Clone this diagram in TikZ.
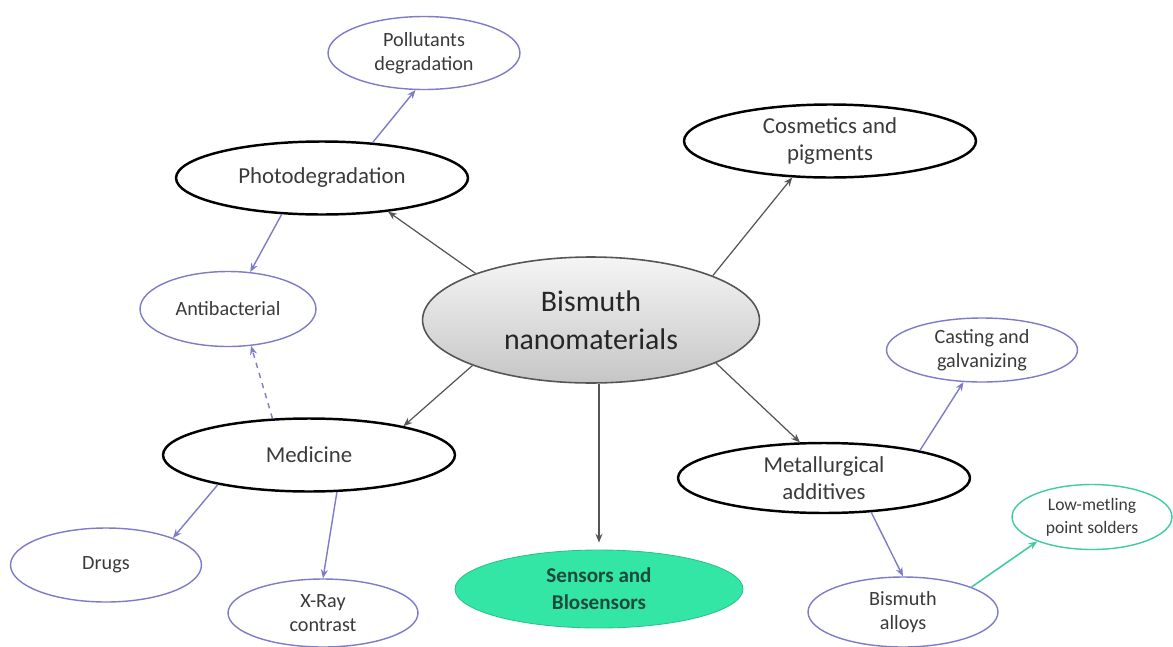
\documentclass[tikz,border=0pt]{standalone}
\usepackage{fontspec}
\setmainfont{Carlito}
\usetikzlibrary{shapes.geometric,arrows.meta}
\definecolor{ink}{HTML}{3A3A3A}
\definecolor{rim}{HTML}{555555}
\definecolor{subline}{HTML}{7E7BC8}
\definecolor{tealline}{HTML}{3FCBA3}
\definecolor{sensorfill}{HTML}{33E6A6}
\definecolor{sensorink}{HTML}{1E4A3C}

\begin{document}
\begin{tikzpicture}[x=0.02cm,y=-0.02cm,
  bub/.style={ellipse, align=center, inner sep=0pt, text=ink},
  topbub/.style={bub, draw=black, line width=1.4pt, minimum width=5.84cm, minimum height=1.46cm,
    font=\fontsize{13}{15.5}\selectfont},
  subbub/.style={bub, draw=subline, line width=0.8pt, minimum width=3.8cm, minimum height=1.44cm,
    font=\fontsize{11.5}{13.7}\selectfont},
  blk/.style={draw=rim, line width=0.7pt, -{Stealth[length=5pt,width=4pt]}},
  blu/.style={draw=subline, line width=0.8pt, -{Stealth[length=5pt,width=4pt]}}]
\useasboundingbox (0,0) rectangle (1173,646);

\node[bub, draw=rim, line width=0.9pt, top color=gray!8, bottom color=gray!45,
  minimum width=6.74cm, minimum height=2.52cm, text=black!85,
  font=\fontsize{17}{21.6}\selectfont] (bismuth) at (591,320) {Bismuth\\nanomaterials};

\node[topbub] (photo) at (322,178) {Photodegradation};
\node[topbub] (cosm) at (830,141) {Cosmetics and\\pigments};
\node[topbub] (medic) at (309,455) {Medicine};
\node[topbub, minimum height=1.4cm] (metal) at (824,478) {Metallurgical\\additives};

\node[subbub, minimum width=3.84cm, minimum height=1.46cm] (pollut) at (424,53) {Pollutants\\degradation};
\node[subbub, minimum width=3.52cm, minimum height=1.5cm] (antibac) at (228,309) {Antibacterial};
\node[subbub, minimum width=3.82cm, minimum height=1.48cm] (drugs) at (106,565) {Drugs};
\node[subbub, minimum height=1.36cm] (xray) at (323,613) {X-Ray\\contrast};
\node[subbub, minimum width=3.82cm, minimum height=1.28cm] (cast) at (982,350) {Casting and\\galvanizing};
\node[subbub, minimum height=1.4cm] (alloys) at (903,612) {Bismuth\\alloys};
\node[subbub, draw=tealline, minimum width=3.2cm, minimum height=1.3cm,
  font=\fontsize{10}{13}\selectfont] (lowmelt) at (1092,517) {Low-metling\\point solders};

\node[bub, draw=sensorfill!85!black, line width=0.5pt, fill=sensorfill, text=sensorink,
  minimum width=5.76cm, minimum height=1.56cm,
  font=\fontsize{12}{15.4}\selectfont\bfseries] (sens) at (599,589) {Sensors and\\Blosensors};

\draw[blk] (bismuth.158) -- (photo.-27);
\draw[blk] (bismuth.20) -- (cosm.224);
\draw[blk] (bismuth.201) -- (medic.17);
\draw[blk] (bismuth.south -| sens.north) -- ([yshift=4pt]sens.north);
\draw[blk] (bismuth.-19) -- (metal.124);

\draw[blu] (photo.35) -- (pollut.257);
\draw[blu] (photo.222) -- (antibac.59);
\draw[blu, dashed] (medic.135) -- (antibac.-58);
\draw[blu] (medic.198) -- (drugs.22);
\draw[blu] (medic.-53) -- (xray.north);
\draw[blu] (metal.16) -- (cast.240);
\draw[blu] (metal.-36) -- (alloys.north);
\draw[draw=tealline, line width=0.9pt, -{Stealth[length=5pt,width=4pt]}] (alloys.20) -- (lowmelt.204);
\end{tikzpicture}
\end{document}
